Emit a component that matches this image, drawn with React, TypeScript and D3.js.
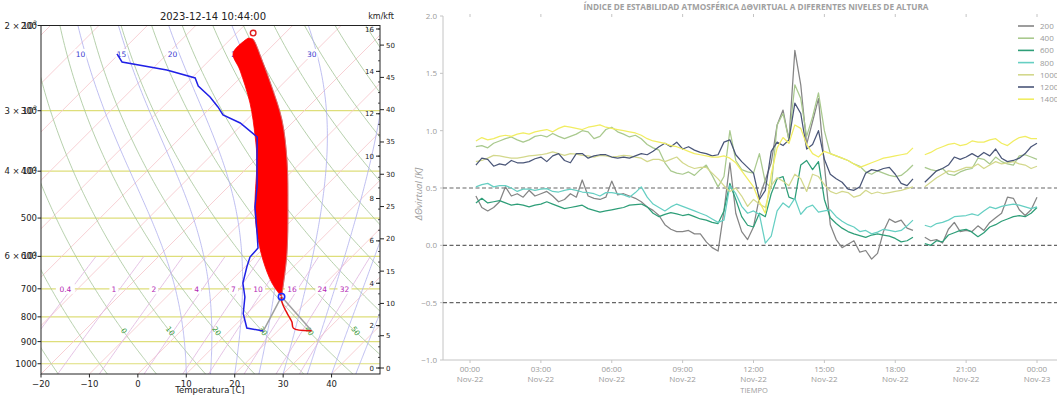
import React from 'react';
import * as d3 from 'd3';

// ---------------- sounding (left panel) ----------------
// environmental temperature below the LCL (hPa, °C)
const tempP = [854.5, 844.8, 818.7, 786.7, 764.4, 744.3, 726.8];
const tempT = [26.95, 22.7, 21.0, 18.3, 16.4, 14.8, 13.7];

// dewpoint profile
const dewP = [855.7, 843.6, 787.9, 727.9, 681, 631, 601.8, 576.6, 536.8, 474.4, 431.3, 379.3, 340, 318, 306.2, 294.7, 281, 266.7, 256.7, 247.2, 237.9, 229];
const dewT = [17.0, 13.0, 9.3, 6.2, 2.9, 0.4, -1.0, -1.2, -4.5, -10.3, -14.0, -19.6, -24.3, -30.7, -35.9, -38.6, -42.3, -47.0, -49.3, -56.8, -67.7, -70.4];

// CAPE shading: environment (left edge) and parcel (right edge)
const envP = [726.8, 681, 610.4, 536.8, 474.4, 379.3, 340, 289.2, 247.2, 228, 212.3];
const envT = [13.7, 8.9, 2.3, -4.5, -10.3, -19.6, -24.7, -32.8, -41.7, -46.6, -46.6];
const parcelP = [726.8, 694, 590.4, 474.4, 379.3, 313.5, 268, 235.7, 216.3, 213.3];
const parcelT = [13.7, 12.0, 5.8, -3.5, -13.4, -22.7, -31.6, -39.2, -44.4, -45.4];

const lcl = { p: 726.8, t: 13.7 };
const el = { p: 207.3, t: -46.6 };
const sfc = { p: 854.5, t: 26.95, td: 17.0 };

const tempTicks = [-20, -10, 0, 10, 20, 30, 40];
const isobars = [1000, 900, 800, 700, 600, 500, 400, 300, 200];
const sciLabels = [{ p: 200, m: '2' }, { p: 300, m: '3' }, { p: 400, m: '4' }, { p: 600, m: '6' }];
const kmTicks = [0, 2, 4, 6, 8, 10, 12, 14, 16];
const kftTicks = [0, 5, 10, 15, 20, 25, 30, 35, 40, 45, 50];
const mixingRatios = [0.4, 1, 2, 4, 7, 10, 16, 24, 32];
const moistStarts = [10, 15, 20, 25, 30, 35, 40, 45, 50];
const moistLabels = [10, 15, 20, 25, 30];
const dryLabels = [0, 10, 20, 30, 40, 50];

// ---------------- time series (right panel) ----------------
// 15-min samples from 00:15 Nov-22 to 00:00 Nov-23, null = gap
const s200 = [0.43,0.33,0.30,0.33, 0.38,0.51,0.43,0.45, 0.42,0.48,0.43,0.45, 0.47,0.43,0.38,0.40, 0.45,0.42,0.57,0.43, 0.41,0.40,0.42,0.56, 0.44,0.45,0.43,0.41, 0.38,0.335,0.305,0.26, 0.18,0.14,0.12,0.12, 0.13,0.10,0.10,0.03, -0.02,-0.05,0.30,0.72, 0.28,0.12,0.05,0.16, 0.42,0.57,0.72,1.05, 1.18,0.92,1.70,1.40, 0.88,1.08,1.28,0.70, 0.18,0.05,-0.02,0.01, 0.04,-0.06,-0.045,-0.12, -0.07,0.12,0.23,0.20, 0.22,0.15,0.13,null, 0.07,0.04,0.05,0.02, 0.14,0.20,0.12,0.13, 0.12,0.17,0.13,0.20, 0.24,0.28,0.42,0.41, 0.31,0.26,0.31,0.42];
const s400 = [0.86,0.87,0.85,0.89, 0.91,0.93,0.945,0.92, 0.90,0.92,0.95,0.96, 0.945,0.975,0.95,0.93, 0.95,0.97,1.00,0.99, 0.93,0.95,1.01,1.03, 0.99,0.97,0.945,0.96, 0.93,0.88,0.85,0.83, 0.72,0.65,0.63,0.62, 0.64,0.61,0.66,0.70, 0.61,0.51,0.60,1.00, 0.74,0.66,0.64,0.63, 0.80,0.55,0.50,1.05, 1.15,0.92,1.40,1.28, 0.95,1.12,1.33,1.00, 0.80,0.78,0.76,0.74, 0.71,0.69,0.64,0.62, 0.65,0.63,0.61,0.60, 0.61,0.65,0.70,null, 0.68,0.66,0.65,0.67, 0.62,0.61,0.64,0.66, 0.67,0.76,0.75,0.71, 0.77,0.73,0.71,0.70, 0.78,0.79,0.77,0.75];
const s600 = [0.37,0.41,0.37,0.38, 0.39,0.37,0.35,0.36, 0.35,0.335,0.35,0.36, 0.38,0.36,0.34,0.32, 0.33,0.34,0.35,0.32, 0.305,0.29,0.30,0.31, 0.32,0.33,0.35,0.355, 0.36,0.335,0.28,0.25, 0.27,0.285,0.275,0.26, 0.27,0.25,0.23,0.22, 0.20,0.19,0.30,0.54, 0.40,0.25,0.175,0.16, 0.28,0.25,0.45,0.58, 0.60,0.42,0.40,0.70, 0.74,0.66,0.73,0.40, 0.24,0.19,0.15,0.12, 0.10,0.085,0.07,0.09, 0.10,0.09,0.08,0.06, 0.03,0.04,0.07,null, 0.015,0.00,0.04,0.03, 0.09,0.11,0.13,0.14, 0.115,0.075,0.11,0.16, 0.18,0.21,0.23,0.25, 0.26,0.25,0.28,0.33];
const s800 = [0.51,0.53,0.54,0.51, 0.52,0.52,0.50,0.47, 0.49,0.49,0.48,0.49, 0.495,0.47,0.465,0.48, 0.49,0.48,0.465,0.46, 0.45,0.43,0.46,0.46, 0.45,0.44,0.42,0.46, 0.51,0.42,0.36,0.33, 0.30,0.335,0.36,0.34, 0.32,0.30,0.28,0.26, 0.23,0.20,0.22,0.52, 0.45,0.34,0.28,0.30, 0.27,0.02,0.08,0.30, 0.37,0.33,0.41,0.27, 0.33,0.35,0.29,0.30, 0.31,0.25,0.21,0.18, 0.16,0.12,0.13,0.10, 0.115,0.14,0.13,0.12, 0.13,0.17,0.22,null, 0.175,0.16,0.19,0.20, 0.22,0.25,0.255,0.26, 0.275,0.26,0.30,0.335, 0.32,0.34,0.35,0.36, 0.35,0.335,0.32,0.335];
const s1000 = [0.73,0.74,0.76,0.785, 0.78,0.77,0.76,0.76, 0.77,0.78,0.785,0.79, 0.80,0.815,0.80,0.785, 0.80,0.795,0.785,0.78, 0.77,0.785,0.78,0.77, 0.775,0.785,0.78,0.77, 0.76,0.73,0.75,0.75, 0.73,0.75,0.77,0.72, 0.69,0.67,0.68,0.68, 0.63,0.58,0.52,0.47, 0.50,0.43,0.34,0.40, 0.36,0.33,0.52,0.59, 0.56,0.52,0.62,0.58, 0.47,0.62,0.60,0.53, 0.47,0.45,0.47,0.46, 0.42,0.435,0.48,0.45, 0.465,0.45,0.46,0.47, 0.48,0.495,0.51,null, 0.51,0.55,0.59,0.62, 0.65,0.64,0.66,0.68, 0.68,0.71,0.67,0.70, 0.73,0.71,0.72,0.73, 0.71,0.70,0.67,0.69];
const s1200 = [0.70,0.76,0.75,0.69, 0.71,0.70,0.74,0.72, 0.72,0.73,0.755,0.77, 0.73,0.78,0.80,0.74, 0.72,0.80,0.80,0.76, 0.78,0.79,0.79,0.77, 0.76,0.77,0.76,0.78, 0.80,0.79,0.82,0.86, 0.89,0.86,0.90,0.84, 0.86,0.83,0.81,0.80, 0.78,0.79,0.90,0.92, 0.79,0.73,0.68,0.63, 0.40,0.48,0.82,0.90, 0.87,0.92,1.24,1.15, 0.84,0.88,1.00,0.75, 0.62,0.58,0.55,0.49, 0.48,0.51,0.63,0.66, 0.65,0.67,0.68,0.62, 0.54,0.52,0.58,null, 0.55,0.60,0.65,0.67, 0.70,0.77,0.75,0.77, 0.80,0.77,0.81,0.78, 0.84,0.76,0.73,0.74, 0.76,0.80,0.86,0.89];
const s1400 = [0.91,0.94,0.92,0.93, 0.95,0.96,0.95,0.97, 0.98,0.97,0.99,1.00, 1.01,0.99,1.02,1.04, 1.03,1.02,1.01,1.03, 1.04,1.05,1.03,1.02, 1.01,1.00,0.99,0.98, 0.96,0.93,0.91,0.90, 0.89,0.87,0.86,0.84, 0.82,0.80,0.79,0.78, 0.77,0.77,0.78,0.76, 0.72,0.65,0.58,0.51, 0.38,0.28,0.62,0.85, 0.94,0.89,1.05,1.02, 0.88,0.80,0.77,0.82, 0.80,0.78,0.76,0.74, 0.71,0.68,0.70,0.72, 0.74,0.76,0.77,0.78, 0.79,0.80,0.85,null, 0.79,0.81,0.84,0.86, 0.88,0.89,0.87,0.88, 0.91,0.90,0.90,0.92, 0.93,0.89,0.87,0.91, 0.94,0.95,0.93,0.93];

const seriesNames = ['200', '400', '600', '800', '1000', '1200', '1400'];
const seriesColors = ['#858585', '#a9c98e', '#2e9e78', '#66cfc3', '#d3d88c', '#4a5678', '#f1ed62'];
const seriesValues = [s200, s400, s600, s800, s1000, s1200, s1400];
const refLines = [0.5, 0, -0.5];
const yTicks = [-1, -0.5, 0, 0.5, 1, 1.5, 2];

// ---------------- thermodynamics helpers for background lines ----------------
const es = (tc: number) => 6.112 * Math.exp((17.67 * tc) / (tc + 243.5));
function moistAdiabat(t0: number): [number, number][] {
  const Rd = 287.04, Cp = 1005.7, Lv = 2.501e6, eps = 0.622;
  const dTdp = (p: number, T: number) => {
    const e = es(T - 273.15);
    const rs = (eps * e) / (p - e);
    return ((Rd * T + Lv * rs) / p) / (Cp + (Lv * Lv * rs * eps) / (Rd * T * T));
  };
  const out: [number, number][] = [[1050, t0]];
  let T = t0 + 273.15, p = 1050;
  const dp = -5;
  while (p > 200) {
    const k1 = dTdp(p, T);
    const k2 = dTdp(p + dp / 2, T + (dp / 2) * k1);
    const k3 = dTdp(p + dp / 2, T + (dp / 2) * k2);
    const k4 = dTdp(p + dp, T + dp * k3);
    T += (dp / 6) * (k1 + 2 * k2 + 2 * k3 + k4);
    p += dp;
    out.push([p, T - 273.15]);
  }
  return out;
}
const dryT = (theta: number, p: number) => (theta + 273.15) * Math.pow(p / 1000, 0.2857) - 273.15;
const mixT = (w: number, p: number) => {
  const e = (p * w / 1000) / (0.622 + w / 1000);
  const a = Math.log(e / 6.112);
  return (243.5 * a) / (17.67 - a);
};

function SkewT() {
  const yP = d3.scaleLog().domain([1050, 200]).range([374, 25.5]);
  const xT = d3.scaleLinear().domain([-20, 50]).range([41, 380]);
  const SKEW = 1.0;
  const pt = (p: number, t: number): [number, number] => [xT(t) + (yP(1050) - yP(p)) * SKEW, yP(p)];
  const line = d3.line<[number, number]>();
  const smooth = d3.line<[number, number]>().curve(d3.curveCatmullRom.alpha(0.5));
  const levels = d3.range(1050, 199, -5);
  const yKm = d3.scaleLinear().domain([0, 16]).range([368, 29]);
  const [x0, x1] = xT.range();
  const top = yP(200), bot = yP(1050);

  const isotherms = d3.range(-100, 51, 10);
  const dry = d3.range(-40, 251, 10);
  const moistCurves = new Map(moistStarts.map(t => [t, moistAdiabat(t)]));
  const nearest = (c: [number, number][], p: number) =>
    c.reduce((a, b) => (Math.abs(b[0] - p) < Math.abs(a[0] - p) ? b : a));

  const envPts = envP.map((p, i) => pt(p, envT[i]));
  const parPts = parcelP.map((p, i) => pt(p, parcelT[i]));
  const fillD = (smooth(envPts) ?? '') + (smooth([...parPts].reverse()) ?? '').replace(/^M/, 'L') + 'Z';

  const font = 'DejaVu Sans, sans-serif';
  return (
    <g fontFamily={font}>
      <clipPath id="skewClip"><rect x={x0} y={top} width={x1 - x0} height={bot - top} /></clipPath>
      <g clipPath="url(#skewClip)" fill="none">
        {isobars.map(p => (
          <line key={'ib' + p} x1={x0} x2={x1} y1={yP(p)} y2={yP(p)} stroke="#dede7a" strokeWidth={1.2} />
        ))}
        {isotherms.map(t => (
          <path key={'it' + t} d={line([pt(1050, t), pt(200, t)]) ?? ''} stroke="#f5c8cc" strokeWidth={0.85} />
        ))}
        {dry.map(th => (
          <path key={'da' + th} d={line(levels.map(p => pt(p, dryT(th, p)))) ?? ''} stroke="#a9c89d" strokeWidth={0.85} />
        ))}
        {moistStarts.map(t => (
          <path key={'ma' + t} d={line(moistCurves.get(t)!.map(([p, tt]) => pt(p, tt))) ?? ''} stroke="#b4b4ee" strokeWidth={0.85} />
        ))}
        {mixingRatios.map(w => (
          <path key={'mr' + w} d={line(d3.range(1050, 599, -10).map(p => pt(p, mixT(w, p)))) ?? ''} stroke="#e0b8e0" strokeWidth={0.85} />
        ))}
        {mixingRatios.map(w => {
          const [x, y] = pt(700, mixT(w, 700));
          const label = String(w);
          const wd = label.length * 5 + 4;
          return (
            <g key={'ml' + w}>
              <rect x={x - 6 - wd / 2} y={y - 5} width={wd} height={10} fill="#fff" />
              <text x={x - 6} y={y + 3} fontSize={7.5} fill="#b428b4" textAnchor="middle">{label}</text>
            </g>
          );
        })}
        {moistLabels.map(t => {
          const q = nearest(moistCurves.get(t)!, 212);
          const x = pt(q[0], q[1])[0];
          const y = yP(229);
          return (
            <g key={'mlab' + t}>
              <rect x={x - 6} y={y - 5} width={12} height={10} fill="#fff" />
              <text x={x} y={y + 3} fontSize={7.5} fill="#3a3ad0" textAnchor="middle">{t}</text>
            </g>
          );
        })}
        {dryLabels.map(th => {
          const [x, y] = pt(857, dryT(th, 857));
          return (
            <text key={'dl' + th} x={x} y={y} fontSize={7.5} fill="#3c9c3c" textAnchor="middle"
              dominantBaseline="middle" transform={`rotate(54 ${x} ${y})`}>{th}</text>
          );
        })}

        {/* CAPE shading and parcel */}
        <path d={fillD} fill="#ff0000" stroke="#ff0000" strokeWidth={0.8} />
        <path d={smooth(parPts) ?? ''} stroke="#b0b0b0" strokeWidth={0.8} opacity={0.7} />
        <path d={line([pt(lcl.p, lcl.t), pt(sfc.p, sfc.t)]) ?? ''} stroke="#a0a0a0" strokeWidth={1.5} />
        <path d={line([pt(lcl.p, lcl.t), pt(sfc.p, sfc.td)]) ?? ''} stroke="#a0a0a0" strokeWidth={1.5} />
        <path d={smooth(tempP.map((p, i) => pt(p, tempT[i]))) ?? ''} stroke="#e81010" strokeWidth={1.5} />
        <path d={line(dewP.map((p, i) => pt(p, dewT[i]))) ?? ''} stroke="#2020e6" strokeWidth={1.5} />
        <circle cx={pt(lcl.p, lcl.t)[0]} cy={pt(lcl.p, lcl.t)[1]} r={3.2} stroke="#1a2cff" strokeWidth={1.6} fill="none" />
        <circle cx={pt(el.p, el.t)[0]} cy={pt(el.p, el.t)[1]} r={2.8} stroke="#e02020" strokeWidth={1.4} fill="none" />
      </g>

      {/* frame */}
      <rect x={x0} y={top} width={x1 - x0} height={bot - top} fill="none" stroke="#222" strokeWidth={1} />

      {/* bottom axis */}
      {tempTicks.map(t => (
        <g key={'tt' + t}>
          <line x1={xT(t)} x2={xT(t)} y1={bot} y2={bot + 3.5} stroke="#222" />
          <text x={xT(t)} y={bot + 12.5} fontSize={8.5} textAnchor="middle" fill="#222">{t < 0 ? '\u2212' + Math.abs(t) : t}</text>
        </g>
      ))}
      <text x={210} y={393} fontSize={8.5} textAnchor="middle" fill="#222">Temperatura [C]</text>

      {/* left axis */}
      {isobars.map(p => (
        <g key={'pl' + p}>
          <line x1={x0 - 3.5} x2={x0} y1={yP(p)} y2={yP(p)} stroke="#222" />
          <text x={37} y={yP(p) + 3} fontSize={8.5} textAnchor="end" fill="#222">{p}</text>
        </g>
      ))}
      {sciLabels.map(s => (
        <text key={'sl' + s.p} x={37} y={yP(s.p) + 3} fontSize={8.5} textAnchor="end" fill="#222">
          {s.m} × 10<tspan dy={-3.5} fontSize={6}>2</tspan>
        </text>
      ))}

      {/* right height axis */}
      {d3.range(0, 16.01, 0.5).map(k => (
        <line key={'km' + k} x1={x1 - 2} x2={x1} y1={yKm(k)} y2={yKm(k)} stroke="#222" strokeWidth={0.8} />
      ))}
      {kmTicks.map(k => (
        <g key={'kt' + k}>
          <line x1={x1 - 4} x2={x1} y1={yKm(k)} y2={yKm(k)} stroke="#222" />
          <text x={x1 - 6} y={yKm(k) + 2.5} fontSize={7} textAnchor="end" fill="#222">{k}</text>
        </g>
      ))}
      {kftTicks.map(k => (
        <g key={'kf' + k}>
          <line x1={x1} x2={x1 + 4} y1={yKm(k * 0.3048)} y2={yKm(k * 0.3048)} stroke="#222" />
          <text x={x1 + 6} y={yKm(k * 0.3048) + 2.5} fontSize={7} fill="#222">{k}</text>
        </g>
      ))}
      <text x={381} y={19} fontSize={8} textAnchor="middle" fill="#222">km/kft</text>
      <text x={213} y={20} fontSize={10} textAnchor="middle" fill="#222">2023-12-14 10:44:00</text>
    </g>
  );
}

function StabilityChart() {
  const start = new Date(2023, 10, 22, 0, 0);
  const x = d3.scaleTime().domain([start, d3.timeHour.offset(start, 24)]).range([470, 1037]);
  const y = d3.scaleLinear().domain([-1, 2]).range([360, 16]);
  const L = 443, R = 1057, T = 16, B = 360;
  const times = s200.map((_, i) => d3.timeMinute.offset(start, 15 * (i + 1)));
  const line = d3.line<number | null>()
    .defined(v => v != null)
    .x((_, i) => x(times[i]))
    .y(v => y(v as number));
  const ticks = x.ticks(d3.timeHour.every(3)!);
  const fHM = d3.timeFormat('%H:%M');
  const fDay = d3.timeFormat('%b-%d');
  const fmt = (v: number) => (v < 0 ? '\u2212' : '') + Math.abs(v).toFixed(1);
  const grey = '#9a9a9a';
  return (
    <g fontFamily="'Open Sans', sans-serif">
      <clipPath id="tsClip"><rect x={L} y={T - 2} width={R - L} height={B - T + 4} /></clipPath>
      <text x={756} y={10} fontSize={8.6} fontWeight="bold" fill="#a0a0a0" textAnchor="middle"
        textLength={345} lengthAdjust="spacingAndGlyphs">
        ÍNDICE DE ESTABILIDAD ATMOSFÉRICA ΔΘVIRTUAL A DIFERENTES NIVELES DE ALTURA
      </text>
      <line x1={L} x2={L} y1={T} y2={B} stroke="#c4c4c4" />
      <line x1={L} x2={R} y1={B} y2={B} stroke="#c4c4c4" />
      {yTicks.map(v => (
        <g key={'yt' + v}>
          <line x1={L - 3} x2={L} y1={y(v)} y2={y(v)} stroke="#c4c4c4" />
          <text x={437} y={y(v) + 3} fontSize={8} textAnchor="end" fill={grey}>{fmt(v)}</text>
        </g>
      ))}
      {ticks.map(t => (
        <g key={'xt' + t.getTime()}>
          <line x1={x(t)} x2={x(t)} y1={B} y2={B + 3} stroke="#c4c4c4" />
          <line x1={x(t)} x2={x(t)} y1={T - 2} y2={T + 1} stroke="#c4c4c4" />
          <text x={x(t)} y={372} fontSize={8} textAnchor="middle" fill={grey}>{fHM(t)}</text>
          <text x={x(t)} y={382} fontSize={8} textAnchor="middle" fill={grey}>{fDay(t)}</text>
        </g>
      ))}
      <text x={754} y={393} fontSize={7.5} textAnchor="middle" fill={grey}>TIEMPO</text>
      <text transform="translate(422,194) rotate(-90)" fontSize={9.5} fontStyle="italic" textAnchor="middle" fill={grey}>
        ΔΘvirtual [K]
      </text>
      <g clipPath="url(#tsClip)">
        {refLines.map(v => (
          <line key={'rl' + v} x1={L} x2={R} y1={y(v)} y2={y(v)} stroke="#666" strokeWidth={1.1} strokeDasharray="4 2.5" />
        ))}
        {seriesValues.map((vals, i) => (
          <path key={seriesNames[i]} d={line(vals) ?? ''} fill="none" stroke={seriesColors[i]} strokeWidth={1.25} strokeLinejoin="round" />
        ))}
      </g>
      {seriesNames.map((n, i) => (
        <g key={'lg' + n}>
          <line x1={1018} x2={1034} y1={26 + i * 12.2} y2={26 + i * 12.2} stroke={seriesColors[i]} strokeWidth={1.6} />
          <text x={1040} y={29 + i * 12.2} fontSize={8} fill={grey}>{n}</text>
        </g>
      ))}
    </g>
  );
}

export default function App() {
  return (
    <svg width={1057} height={398} style={{ position: 'absolute', left: 0, top: 0, background: '#fff' }}>
      <SkewT />
      <StabilityChart />
    </svg>
  );
}
